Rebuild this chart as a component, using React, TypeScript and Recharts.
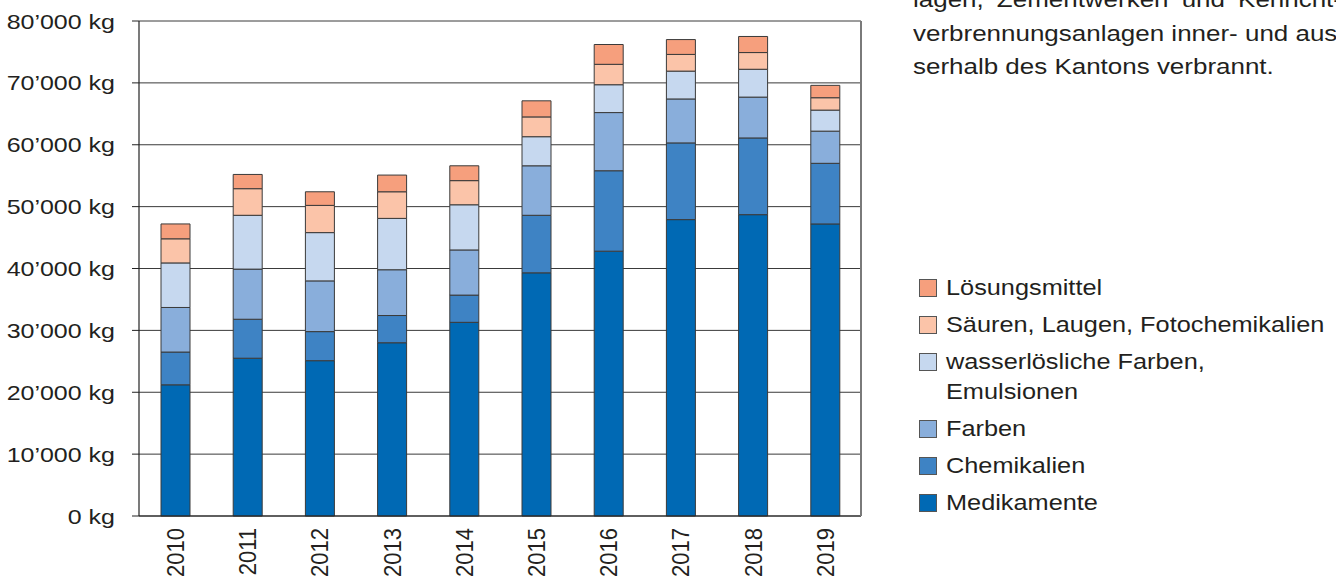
import React from 'react';
import { BarChart, Bar, XAxis, YAxis, CartesianGrid, Legend } from 'recharts';

const FONT = '"Liberation Sans", Arial, Helvetica, sans-serif';
const TEXT = '#231f20';

// categories
const years = ['2010', '2011', '2012', '2013', '2014', '2015', '2016', '2017', '2018', '2019'];

// series values (kg), stacked bottom to top
const medikamente = [21200, 25500, 25100, 28000, 31300, 39300, 42800, 47900, 48700, 47200];
const chemikalien = [5300, 6300, 4700, 4400, 4400, 9300, 13000, 12400, 12400, 9800];
const farben = [7200, 8100, 8200, 7400, 7300, 8000, 9400, 7100, 6600, 5200];
const wasserloeslich = [7200, 8700, 7800, 8300, 7300, 4700, 4500, 4500, 4500, 3400];
const saeuren = [3900, 4300, 4400, 4300, 3900, 3200, 3300, 2700, 2700, 2000];
const loesungsmittel = [2400, 2300, 2200, 2700, 2400, 2600, 3200, 2400, 2600, 2000];

// tick values
const yTicks = [0, 10000, 20000, 30000, 40000, 50000, 60000, 70000, 80000];
const edgeTicks = [0, 1, 2, 3, 4, 5, 6, 7, 8, 9, 10];

const annotationLines = [
  'lagen, Zementwerken und Kehricht-',
  'verbrennungsanlagen inner- und aus-',
  'serhalb des Kantons verbrannt.',
];

const series = [
  { key: 'medikamente', name: 'Medikamente', color: '#0069b4', values: medikamente },
  { key: 'chemikalien', name: 'Chemikalien', color: '#3e83c4', values: chemikalien },
  { key: 'farben', name: 'Farben', color: '#89aedb', values: farben },
  { key: 'wasserloeslich', name: 'wasserlösliche Farben,\nEmulsionen', color: '#c6d8ef', values: wasserloeslich },
  { key: 'saeuren', name: 'Säuren, Laugen, Fotochemikalien', color: '#fbc4a9', values: saeuren },
  { key: 'loesungsmittel', name: 'Lösungsmittel', color: '#f69f7d', values: loesungsmittel },
];

const data = years.map((year, i) => {
  const row: Record<string, string | number> = { year };
  series.forEach((s) => {
    row[s.key] = s.values[i];
  });
  return row;
});

function formatKg(v: number) {
  return v === 0 ? '0 kg' : `${v / 1000}’000 kg`;
}

function YTick(props: any) {
  const { x, y, payload } = props;
  return (
    <g transform={`translate(${x},${y})`}>
      <text
        transform="scale(1.19,1)"
        textAnchor="end"
        dy={7.5}
        fontSize={21}
        fontFamily={FONT}
        fill={TEXT}
      >
        {formatKg(payload.value)}
      </text>
    </g>
  );
}

function YearTick(props: any) {
  const { x, y, payload } = props;
  return (
    <g transform={`translate(${x},${y})`}>
      <text
        transform="scale(1.1,1) rotate(-90)"
        x={-4}
        y={8}
        textAnchor="end"
        fontSize={22}
        fontFamily={FONT}
        fill={TEXT}
      >
        {payload.value}
      </text>
    </g>
  );
}

function LegendContent() {
  const items = series.slice().reverse();
  return (
    <div style={{ display: 'flex', flexDirection: 'column', gap: 7 }}>
      {items.map((s) => (
        <div key={s.key} style={{ position: 'relative', paddingLeft: 27, lineHeight: '30px' }}>
          <span
            style={{
              position: 'absolute',
              left: 0,
              top: 6,
              width: 18,
              height: 18,
              boxSizing: 'border-box',
              background: s.color,
              border: '1px solid #555',
            }}
          />
          <span
            style={{
              display: 'block',
              whiteSpace: 'pre',
              fontFamily: FONT,
              fontSize: 22,
              lineHeight: '30px',
              color: TEXT,
              transform: 'scaleX(1.15)',
              transformOrigin: 'left center',
            }}
          >
            {s.name}
          </span>
        </div>
      ))}
    </div>
  );
}

export default function App() {
  return (
    <div
      style={{
        position: 'absolute',
        left: 0,
        top: 0,
        width: 1336,
        height: 579,
        overflow: 'hidden',
        background: '#ffffff',
      }}
    >
      <BarChart
        width={1336}
        height={579}
        data={data}
        margin={{ top: 21, right: 474, bottom: 0, left: 0 }}
        barSize={29}
      >
        <CartesianGrid
          xAxisId="b_cat"
          yAxisId="left"
          horizontal
          vertical={false}
          stroke="#3a3a3a"
          strokeWidth={1}
        />
        <XAxis
          xAxisId="b_cat"
          dataKey="year"
          interval={0}
          tickLine={false}
          axisLine={false}
          tickSize={0}
          tickMargin={0}
          height={55}
          tick={<YearTick />}
        />
        <XAxis
          xAxisId="a_edge"
          type="number"
          domain={[0, 10]}
          ticks={edgeTicks}
          allowDataOverflow
          tick={false}
          tickSize={7}
          height={8}
          axisLine={{ stroke: '#222', strokeWidth: 1.2 }}
          tickLine={{ stroke: '#222', strokeWidth: 1 }}
        />
        <YAxis
          yAxisId="left"
          domain={[0, 80000]}
          ticks={yTicks}
          interval={0}
          width={139}
          tickSize={7}
          tickMargin={17}
          axisLine={{ stroke: '#222', strokeWidth: 1.2 }}
          tickLine={{ stroke: '#222', strokeWidth: 1 }}
          tick={<YTick />}
        />
        <YAxis
          yAxisId="right"
          orientation="right"
          domain={[0, 80000]}
          width={1}
          tick={false}
          tickLine={false}
          axisLine={{ stroke: '#7a7a7a', strokeWidth: 2 }}
        />
        {series.map((s) => (
          <Bar
            key={s.key}
            dataKey={s.key}
            name={s.name}
            stackId="total"
            xAxisId="b_cat"
            yAxisId="left"
            fill={s.color}
            stroke="#3a3a3a"
            strokeWidth={1}
            isAnimationActive={false}
          />
        ))}
        <Legend
          layout="horizontal"
          align="center"
          verticalAlign="middle"
          content={<LegendContent />}
          wrapperStyle={{ left: 919, top: 273, width: 417 }}
        />
      </BarChart>
      <div
        style={{
          position: 'absolute',
          left: 913,
          top: -17,
          fontFamily: FONT,
          fontSize: 22,
          lineHeight: '33.5px',
          color: TEXT,
          whiteSpace: 'nowrap',
          transform: 'scaleX(1.18)',
          transformOrigin: 'left top',
        }}
      >
        {annotationLines.map((line, i) => (
          <div key={i} style={{ wordSpacing: i === 0 ? 5 : 0 }}>
            {line}
          </div>
        ))}
      </div>
    </div>
  );
}
